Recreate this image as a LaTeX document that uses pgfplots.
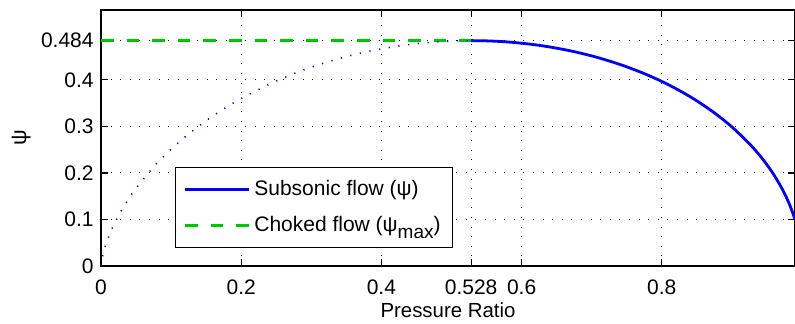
\documentclass[border=0pt]{standalone}
\usepackage{fontspec}
\setmainfont{Liberation Sans}
\usepackage{pgfplots}
\pgfplotsset{compat=1.18}

\definecolor{flowblue}{RGB}{0,0,255}
\definecolor{chokegreen}{RGB}{0,200,0}

\newcommand{\lblfont}{\fontsize{10.5}{12.5}\selectfont}

\begin{document}
\lblfont
\begin{tikzpicture}
\useasboundingbox (0,0) rectangle (397.5pt,161.5pt);
\begin{axis}[
  at={(50.5pt,28.5pt)}, anchor=south west,
  scale only axis, width=347pt, height=128pt,
  xmin=0, xmax=0.99, ymin=0, ymax=0.55,
  xtick={0,0.2,0.4,0.528,0.6,0.8},
  xticklabels={0,0.2,0.4,0.528,0.6,0.8},
  ytick={0,0.1,0.2,0.3,0.4,0.484},
  yticklabels={0,0.1,0.2,0.3,0.4,0.484},
  /pgf/number format/assume math mode=true,
  tick label style={font=\lblfont},
  tick align=inside, major tick length=3.5pt,
  tick style={black, line width=0.6pt},
  axis line style={black, line width=0.8pt},
  xticklabel style={yshift=-3pt},
  grid=major,
  major grid style={black, line width=0.5pt, dash pattern=on 0.5pt off 4.3pt},
  xlabel={Pressure Ratio},
  ylabel={ψ},
  xlabel style={at={(axis description cs:0.5,-0.172)}, anchor=center, font=\fontsize{10.2}{12}\selectfont},
  ylabel style={at={(axis description cs:-0.115,0.5)}, anchor=center, font=\fontsize{11}{13}\selectfont},
  legend cell align=left,
  legend style={at={(rel axis cs:0.1066,0.388)}, anchor=north west,
    draw=black, line width=0.6pt, inner xsep=4pt, inner ysep=4.4pt,
    row sep=5pt, font=\lblfont},
  legend image code/.code={\draw[#1] plot coordinates {(0pt,0pt) (16pt,0pt) (32pt,0pt)};},
]
% subsonic branch, r from the critical ratio up to 0.99
\addplot[flowblue, line width=1.4pt, smooth] coordinates {
  (0.528,0.4842) (0.55,0.4837) (0.575,0.4819) (0.6,0.4787) (0.625,0.4741)
  (0.65,0.4680) (0.675,0.4605) (0.7,0.4514) (0.725,0.4405) (0.75,0.4279)
  (0.775,0.4133) (0.8,0.3965) (0.825,0.3771) (0.85,0.3548) (0.875,0.3290)
  (0.9,0.2988) (0.925,0.2626) (0.94,0.2370) (0.95,0.2175) (0.96,0.1957)
  (0.97,0.1704) (0.975,0.1560) (0.98,0.1399) (0.985,0.1215) (0.99,0.0995)
};
\addlegendentry{Subsonic flow (ψ)}
% choked flow limit
\addplot[chokegreen, line width=1.4pt, dash pattern=on 6.3pt off 6.5pt] coordinates {
  (0,0.484) (0.528,0.484)
};
\addlegendentry{Choked flow (ψ\raisebox{-0.6ex}{\fontsize{9.5}{11}\selectfont max})}
% the same function below the critical ratio (not physical)
\addplot[flowblue, line width=0.8pt, dash pattern=on 0.6pt off 4.3pt, smooth, forget plot] coordinates {
  (0,0) (0.001,0.0125) (0.005,0.0375) (0.01,0.0597) (0.015,0.0779)
  (0.02,0.0939) (0.03,0.1216) (0.04,0.1456) (0.05,0.1670) (0.075,0.2127)
  (0.1,0.2508) (0.125,0.2835) (0.15,0.3122) (0.175,0.3374) (0.2,0.3598)
  (0.25,0.3975) (0.3,0.4272) (0.35,0.4499) (0.4,0.4666) (0.45,0.4777)
  (0.5,0.4833) (0.528,0.4842)
};
\end{axis}
\end{tikzpicture}
\end{document}
